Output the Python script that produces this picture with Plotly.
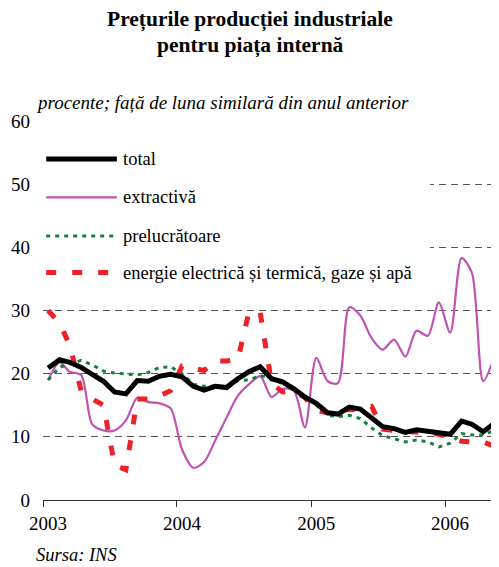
import pandas as pd
import plotly.graph_objects as go

# Months Jan 2003 .. May 2006 (points plotted at mid-month)
months = pd.date_range("2003-01-01", periods=41, freq="MS") + pd.Timedelta(days=14)

total = [20.9, 22.2, 21.8, 21.0, 19.9, 18.8, 17.1, 16.8, 18.9, 18.8,
         19.6, 19.9, 19.5, 18.0, 17.4, 18.0, 17.8, 19.2, 20.3, 21.1,
         19.2, 18.7, 17.6, 16.3, 15.3, 13.8, 13.6, 14.7, 14.4, 13.0,
         11.6, 11.3, 10.7, 11.1, 10.9, 10.7, 10.4, 12.5, 12.0, 10.8, 12.1]

extractiva = [19.0, 21.8, 20.3, 19.8, 12.0, 11.0, 11.0, 12.6, 16.2, 15.5,
              15.3, 14.5, 8.0, 5.1, 6.0, 9.5, 13.0, 16.5, 18.3, 19.6,
              16.3, 17.6, 17.3, 11.5, 22.5, 18.8, 18.5, 30.5, 29.2, 25.6,
              23.8, 25.4, 22.7, 26.8, 26.0, 31.3, 26.5, 38.3, 36.0, 18.8, 22.6]

prelucratoare = [19.0, 21.0, 21.5, 22.1, 21.4, 20.4, 20.1, 19.9, 19.8, 20.2,
                 21.0, 21.1, 20.0, 18.3, 18.0, 18.1, 17.6, 18.9, 19.0, 19.7,
                 19.3, 18.4, 17.6, 16.4, 15.0, 13.4, 13.2, 13.4, 12.9, 11.4,
                 10.2, 9.7, 9.2, 9.5, 9.2, 8.4, 9.0, 10.5, 10.3, 10.3, 11.0]

energie = [30.0, 28.0, 24.5, 17.3, 16.0, 15.0, 5.5, 4.8, 16.0, 16.0,
           16.5, 17.3, 21.2, 20.8, 20.5, 22.0, 22.0, 22.2, 29.7, 29.7,
           18.5, 17.1, 17.2, 16.2, 14.2, 13.8, 14.3, 14.3, 14.4, 14.8,
           11.2, 11.0, 10.9, 10.8, 10.6, 10.4, 9.8, 9.3, 9.2, 9.2, 8.5]

series_names = ["total", "extractivă", "prelucrătoare",
                "energie electrică și termică, gaze și apă"]
year_ticks = ["2003-01-01", "2004-01-01", "2005-01-01", "2006-01-01"]
year_labels = ["2003", "2004", "2005", "2006"]
y_ticks = [0, 10, 20, 30, 40, 50, 60]

FONT = "Liberation Serif, Times New Roman, serif"
BLACK = "#000000"
PURPLE = "#c052b2"
GREEN = "#17803d"
RED = "#ee2028"

styles = [
    dict(color=BLACK, width=5, dash="solid", shape="linear"),
    dict(color=PURPLE, width=2.2, dash="solid", shape="spline"),
    dict(color=GREEN, width=3, dash="4px,5px", shape="linear"),
    dict(color=RED, width=5, dash="10px,16px", shape="linear"),
]
data = [total, extractiva, prelucratoare, energie]

fig = go.Figure()
order = [1, 2, 3, 0]
for k in order:
    s = styles[k]
    line = dict(color=s["color"], width=s["width"], dash=s["dash"], shape=s["shape"])
    if s["shape"] == "spline":
        line["smoothing"] = 0.8
    fig.add_trace(go.Scatter(
        x=months, y=data[k], mode="lines", name=series_names[k],
        line=line, showlegend=False, hoverinfo="skip"))

# white legend box covering the gridlines
fig.add_shape(type="rect", xref="paper", yref="y", x0=0, x1=0.849, y0=32.4, y1=57.5,
              fillcolor="white", line=dict(width=0), layer="above")

# manual legend
legend_y = [54.0, 47.9, 41.8, 36.0]
for k in range(4):
    s = styles[k]
    fig.add_shape(type="line", xref="paper", yref="y", x0=0.007, x1=0.162,
                  y0=legend_y[k], y1=legend_y[k], layer="above",
                  line=dict(color=s["color"], width=s["width"], dash=s["dash"]))
    fig.add_annotation(xref="paper", yref="y", x=0.172, y=legend_y[k],
                       text=series_names[k], showarrow=False, xanchor="left",
                       yanchor="middle", font=dict(family=FONT, size=18.5, color="black"))

# titles
fig.add_annotation(xref="paper", yref="paper", x=0.454, y=1.2665, text="<b>Prețurile producției industriale</b>",
                   showarrow=False, xanchor="center", yanchor="middle",
                   font=dict(family=FONT, size=21.5, color="black"))
fig.add_annotation(xref="paper", yref="paper", x=0.454, y=1.198, text="<b>pentru piața internă</b>",
                   showarrow=False, xanchor="center", yanchor="middle",
                   font=dict(family=FONT, size=21.5, color="black"))
fig.add_annotation(xref="paper", yref="paper", x=-0.02, y=1.0475,
                   text="<i>procente; față de luna similară din anul anterior</i>",
                   showarrow=False, xanchor="left", yanchor="middle",
                   font=dict(family=FONT, size=19, color="black"))
fig.add_annotation(xref="paper", yref="paper", x=-0.02, y=-0.146,
                   text="<i>Sursa: INS</i>",
                   showarrow=False, xanchor="left", yanchor="middle",
                   font=dict(family=FONT, size=18.5, color="black"))

# figure placed at the page's 8px body margin: size/margins compensate
fig.update_layout(
    width=491, height=559,
    margin=dict(l=35, r=0, t=113, b=67, autoexpand=False),
    paper_bgcolor="white", plot_bgcolor="white",
    font=dict(family=FONT, size=19, color="black"),
)
fig.update_xaxes(
    range=["2003-01-01", "2006-05-28"], automargin=False,
    tickvals=year_ticks, ticktext=year_labels, ticklabelshift=5,
    ticks="outside", ticklen=6, tickcolor="#333", tickwidth=1,
    showline=True, linecolor="#333", linewidth=1,
    showgrid=False, zeroline=False,
    tickfont=dict(family=FONT, size=19, color="black"),
)
fig.update_yaxes(
    range=[0, 60], tickvals=y_ticks, automargin=False,
    showgrid=True, gridcolor="#555", gridwidth=1, griddash="7px,5px",
    showline=False, zeroline=False, ticks="",
    ticklabelstandoff=12,
    tickfont=dict(family=FONT, size=19, color="black"),
)

fig.write_html("out.html")
